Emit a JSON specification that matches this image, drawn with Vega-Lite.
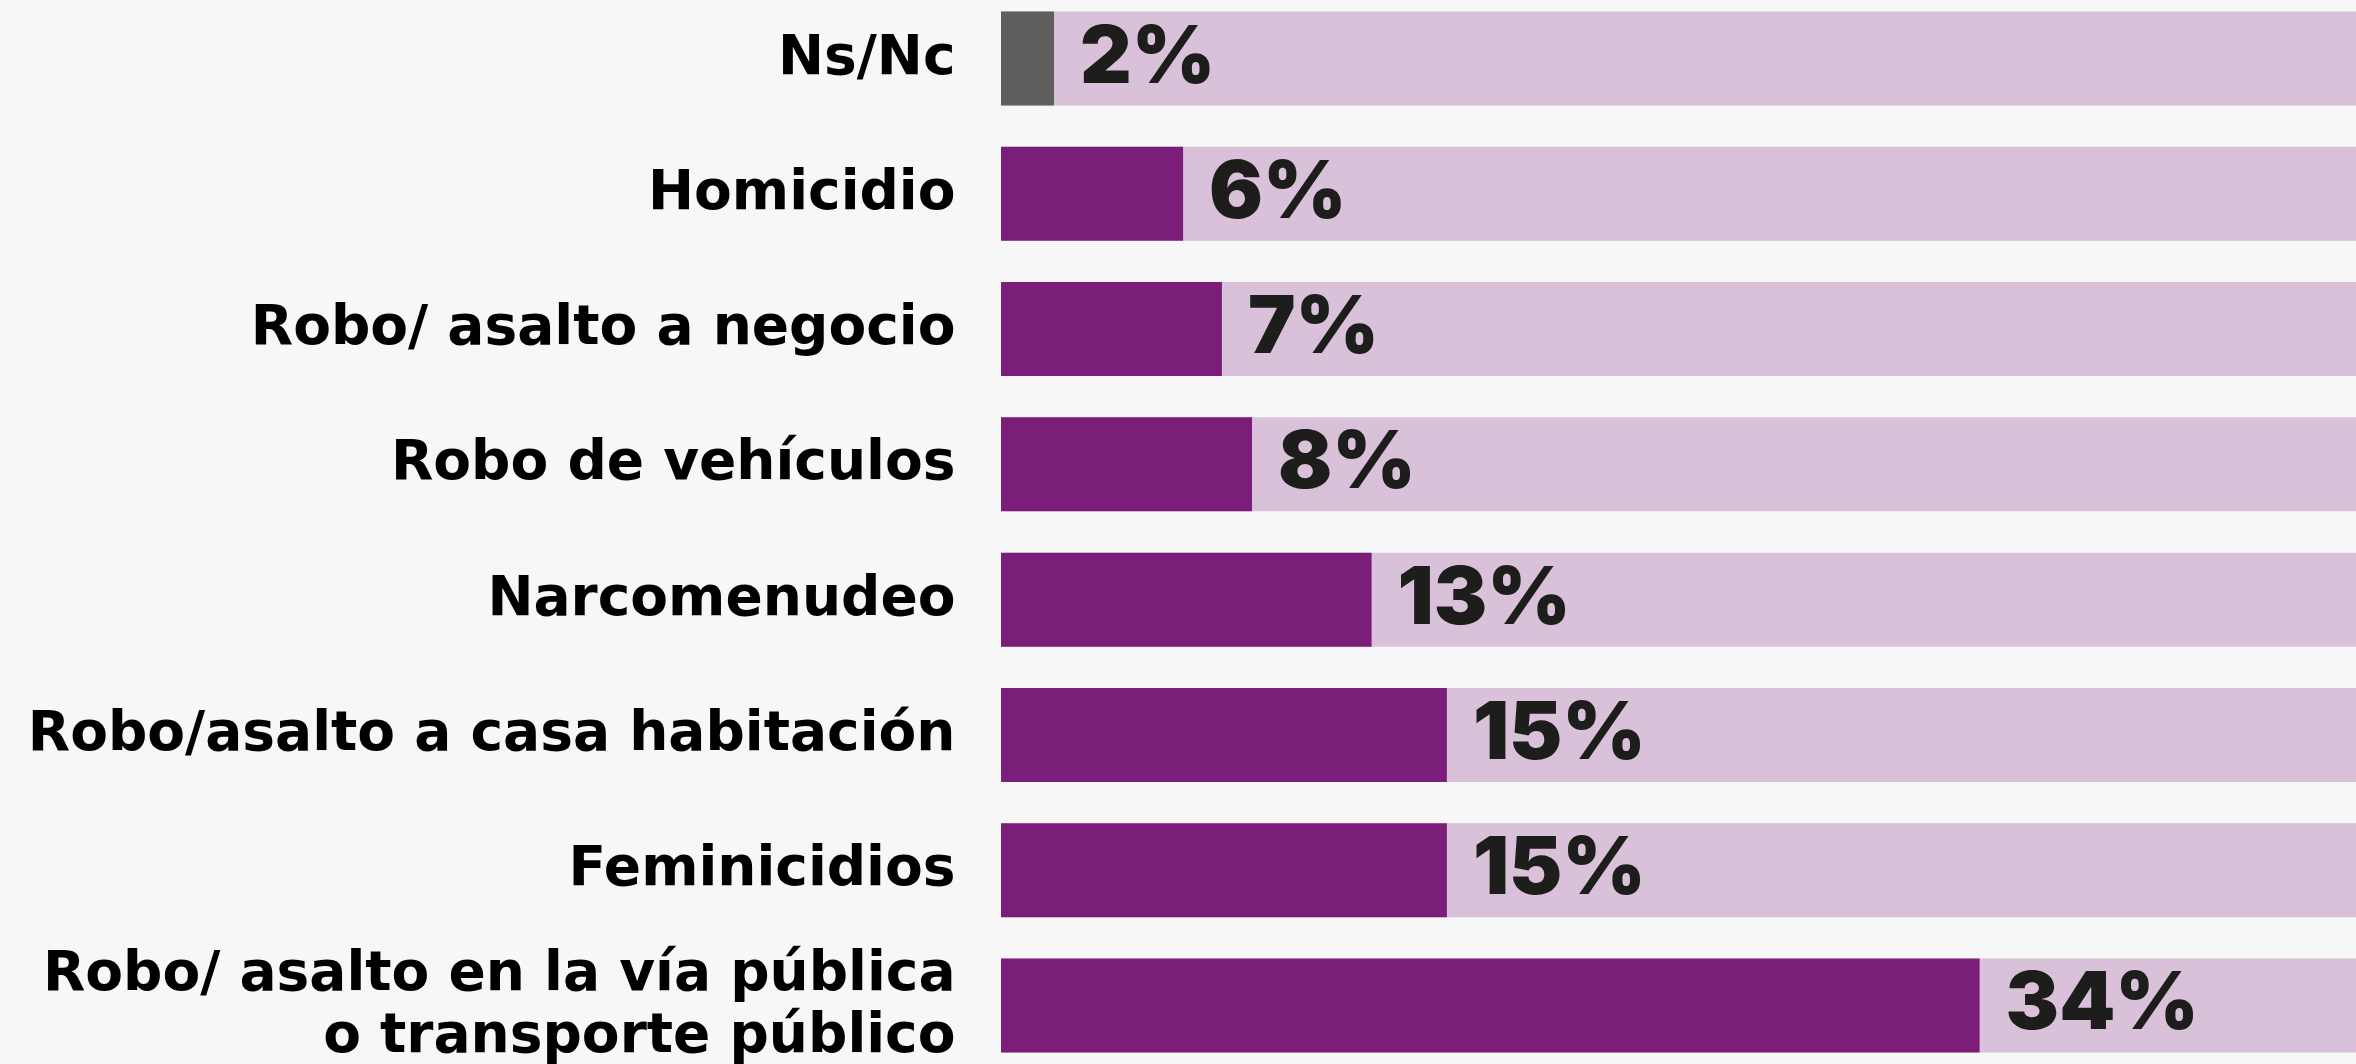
{
  "$schema": "https://vega.github.io/schema/vega-lite/v6.json",
  "autosize": {"type": "none"},
  "padding": {"left": 1001, "top": 0, "right": 0, "bottom": 0},
  "width": 1355,
  "height": 1064,
  "background": "#f7f7f7",
  "config": {"view": {"stroke": null}},
  "data": {
    "values": [
      {"cat": "Ns/Nc", "pct": 1.83, "label": "2%", "group": "nsnc"},
      {"cat": "Homicidio", "pct": 6.29, "label": "6%", "group": "main"},
      {"cat": "Robo/ asalto a negocio", "pct": 7.63, "label": "7%", "group": "main"},
      {"cat": "Robo de vehículos", "pct": 8.67, "label": "8%", "group": "main"},
      {"cat": "Narcomenudeo", "pct": 12.8, "label": "13%", "group": "main"},
      {"cat": "Robo/asalto a casa habitación", "pct": 15.4, "label": "15%", "group": "main"},
      {"cat": "Feminicidios", "pct": 15.4, "label": "15%", "group": "main"},
      {"cat": "Robo/ asalto en la vía pública|o transporte público", "pct": 33.8, "label": "34%", "group": "main"}
    ]
  },
  "encoding": {
    "y": {
      "field": "cat",
      "type": "nominal",
      "sort": null,
      "title": null,
      "scale": {"paddingInner": 0.305, "paddingOuter": 0.085},
      "axis": {
        "domain": false,
        "ticks": false,
        "labelExpr": "split(datum.value, '|')",
        "labelFont": "DejaVu Sans",
        "labelFontWeight": "bold",
        "labelFontSize": 55,
        "labelColor": "#000000",
        "labelPadding": 46,
        "labelLineHeight": 62,
        "labelOffset": {"condition": {"test": "indexof(datum.value, '|') >= 0", "value": -32}, "value": -2},
        "labelLimit": 1000
      }
    }
  },
  "layer": [
    {
      "mark": {"type": "bar", "color": "#dac1da"},
      "encoding": {
        "x": {"datum": 0, "type": "quantitative", "scale": {"domain": [0, 46.8], "nice": false}, "axis": null},
        "x2": {"datum": 46.8}
      }
    },
    {
      "mark": {"type": "bar"},
      "encoding": {
        "x": {"field": "pct", "type": "quantitative", "scale": {"domain": [0, 46.8], "nice": false}, "axis": null},
        "color": {
          "field": "group",
          "type": "nominal",
          "scale": {"domain": ["nsnc", "main"], "range": ["#5f5f5f", "#7b1e7a"]},
          "legend": null
        }
      }
    },
    {
      "mark": {"type": "text", "align": "left", "baseline": "middle", "dx": 26, "font": "Inter", "fontWeight": 900, "fontSize": 80, "color": "#1d1d1b"},
      "encoding": {
        "x": {"field": "pct", "type": "quantitative"},
        "text": {"field": "label"}
      }
    }
  ]
}
